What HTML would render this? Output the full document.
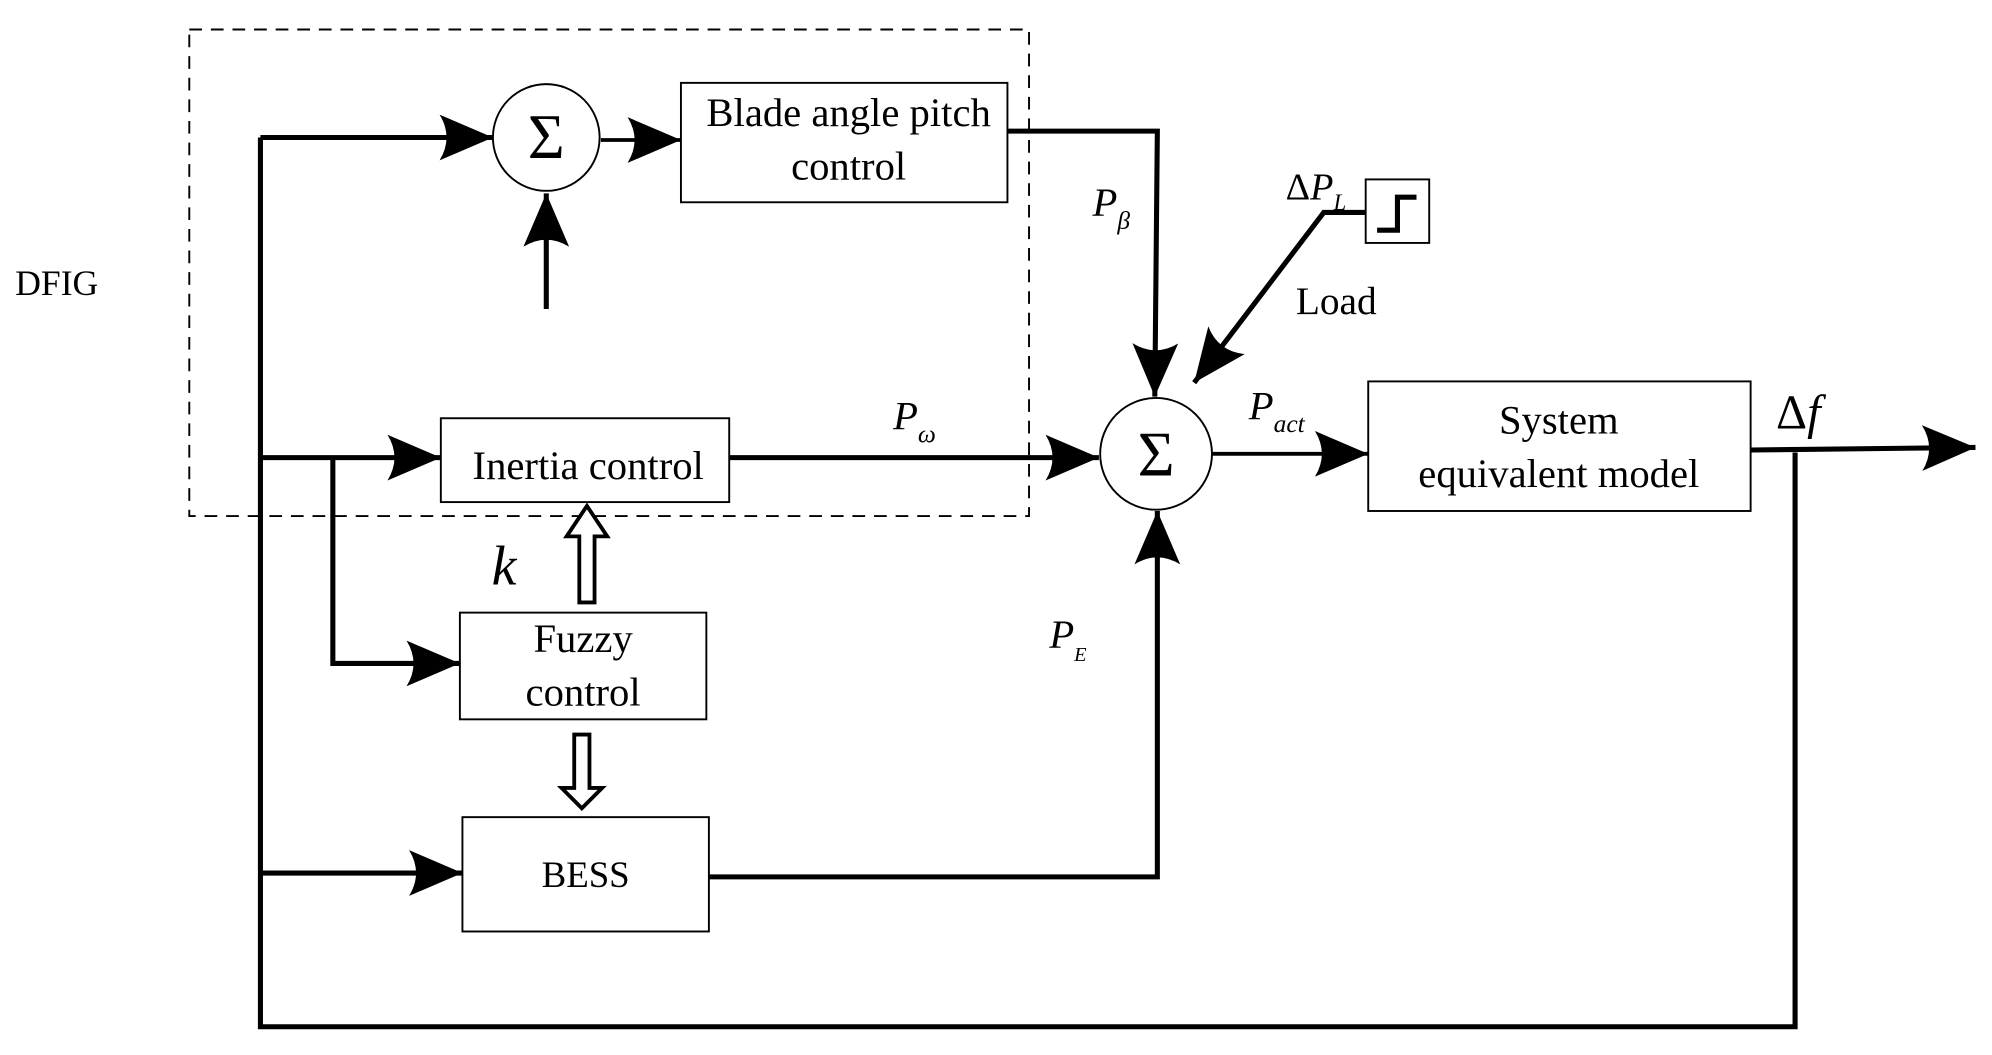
<!DOCTYPE html>
<html><head><style>html,body{margin:0;padding:0;background:#fff}svg{display:block}</style></head>
<body>
<svg width="1992" height="1055" viewBox="0 0 1568 830" xmlns="http://www.w3.org/2000/svg" font-family="Liberation Serif, serif">
<defs>
<marker id="a" markerUnits="userSpaceOnUse" markerWidth="46" markerHeight="40" refX="42" refY="20" orient="auto">
<path d="M0,2 Q11,20 0,38 L42,20 Z" fill="#000"/>
</marker>
</defs>
<rect x="149" y="23" width="661" height="383" fill="none" stroke="#000" stroke-width="1.5" stroke-dasharray="10,7"/>
<text x="12" y="232" font-size="28">DFIG</text>
<g fill="none" stroke="#000" stroke-width="4">
<polyline points="205,108 205,808 1413,808 1413,356"/>
<line x1="205" y1="108" x2="388" y2="108" marker-end="url(#a)"/>
<line x1="473" y1="110" x2="536" y2="110" stroke-width="3" marker-end="url(#a)"/>
<line x1="430" y1="243" x2="430" y2="152" marker-end="url(#a)"/>
<polyline points="793,103 911,103 909,312" marker-end="url(#a)"/>
<line x1="205" y1="360" x2="347" y2="360" marker-end="url(#a)"/>
<line x1="574" y1="360" x2="865" y2="360" marker-end="url(#a)"/>
<polyline points="262,360 262,522 362,522" marker-end="url(#a)"/>
<line x1="205" y1="687" x2="364" y2="687" marker-end="url(#a)"/>
<polyline points="558,690 911,690 911,402" marker-end="url(#a)"/>
<polyline points="1075,167 1042,167 940,301" marker-end="url(#a)"/>
<line x1="954" y1="357" x2="1077" y2="357" stroke-width="3" marker-end="url(#a)"/>
<line x1="1378" y1="354" x2="1555" y2="352" marker-end="url(#a)"/>
</g>
<g fill="#fff" stroke="#000" stroke-width="1.5">
<circle cx="430" cy="108" r="42"/>
<circle cx="910" cy="357" r="44"/>
<rect x="536" y="65" width="257" height="94"/>
<rect x="347" y="329" width="227" height="66"/>
<rect x="362" y="482" width="194" height="84"/>
<rect x="364" y="643" width="194" height="90"/>
<rect x="1077" y="300" width="301" height="102"/>
<rect x="1075" y="141" width="50" height="50"/>
</g>
<polyline points="1084,181 1100,181 1100,155 1115,155" fill="none" stroke="#000" stroke-width="4"/>
<g fill="#fff" stroke="#000" stroke-width="3">
<path d="M456,474 L456,422 L446,422 L462,398 L478,422 L468,422 L468,474 Z"/>
<path d="M452,578 L452,620 L442,620 L458,636 L474,620 L464,620 L464,578 Z"/>
</g>
<g font-size="32" text-anchor="middle">
<text x="430" y="124" font-size="50">Σ</text>
<text x="910" y="374" font-size="50">Σ</text>
<text x="668" y="99">Blade angle pitch</text>
<text x="668" y="141">control</text>
<text x="463" y="377">Inertia control</text>
<text x="459" y="513">Fuzzy</text>
<text x="459" y="555">control</text>
<text x="461" y="698" font-size="29">BESS</text>
<text x="1227" y="341">System</text>
<text x="1227" y="383">equivalent model</text>
</g>
<text x="1020" y="247" font-size="31">Load</text>
<text x="387" y="460" font-size="44" font-style="italic">k</text>
<text x="860" y="170" font-size="32" font-style="italic">P<tspan font-size="20" dy="10">β</tspan></text>
<text x="703" y="338" font-size="32" font-style="italic">P<tspan font-size="20" dy="10">ω</tspan></text>
<text x="826" y="510" font-size="32" font-style="italic">P<tspan font-size="16" dy="10">E</tspan></text>
<text x="983" y="330" font-size="32" font-style="italic">P<tspan font-size="20" dy="10">act</tspan></text>
<text x="1012" y="157" font-size="30">Δ<tspan font-style="italic">P</tspan><tspan font-size="18" dy="8" font-style="italic">L</tspan></text>
<text x="1398" y="337" font-size="38">Δ<tspan font-style="italic">f</tspan></text>
</svg>
</body></html>
